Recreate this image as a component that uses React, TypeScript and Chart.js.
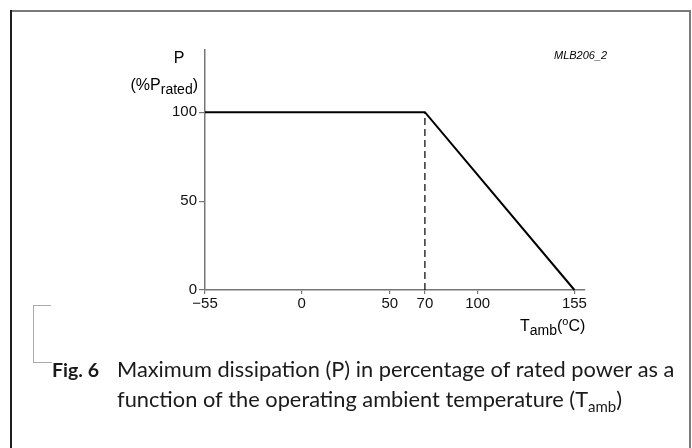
import { useEffect, useRef } from "react";
import { Chart, registerables } from "chart.js";

Chart.register(...registerables);

// ---- data ----
const curveTemps = [-55, 70, 155];
const curvePower = [100, 100, 0];
const dashTemps = [70, 70];
const dashPower = [0, 100];
const xTickValues = [-55, 0, 50, 70, 100, 155];
const yTickValues = [0, 50, 100];
const figLabel = "Fig. 6";
const captionLine1 = "Maximum dissipation (P) in percentage of rated power as a";
const captionLine2 = "function of the operating ambient temperature (T";
const codeLabel = "MLB206_2";

const SANS = "'Liberation Sans', Arial, sans-serif";
const CAP = "Lato, 'Open Sans', sans-serif";

type Seg = { t: string; font: string; dy: number };

function drawSegs(ctx: CanvasRenderingContext2D, segs: Seg[], x: number, y: number, align: "left" | "right") {
  let total = 0;
  for (const s of segs) {
    ctx.font = s.font;
    total += ctx.measureText(s.t).width;
  }
  let cx = align === "left" ? x : x - total;
  ctx.textAlign = "left";
  ctx.textBaseline = "alphabetic";
  for (const s of segs) {
    ctx.font = s.font;
    ctx.fillText(s.t, cx, y + s.dy);
    cx += ctx.measureText(s.t).width;
  }
}

const decorPlugin = {
  id: "decor",
  beforeDraw(chart: any) {
    const ctx: CanvasRenderingContext2D = chart.ctx;
    ctx.save();
    ctx.fillStyle = "#fff";
    ctx.fillRect(0, 0, chart.width, chart.height);
    // frame
    ctx.lineWidth = 2;
    ctx.strokeStyle = "#7a7a7a";
    ctx.beginPath();
    ctx.moveTo(10, 11);
    ctx.lineTo(690, 11);
    ctx.lineTo(690, 448);
    ctx.stroke();
    ctx.strokeStyle = "#1e1e1e";
    ctx.beginPath();
    ctx.moveTo(11, 10);
    ctx.lineTo(11, 448);
    ctx.stroke();
    // dotted bracket
    ctx.strokeStyle = "#555";
    ctx.lineWidth = 1;
    ctx.setLineDash([1, 1]);
    ctx.beginPath();
    ctx.moveTo(50.5, 305.5);
    ctx.lineTo(33.5, 305.5);
    ctx.lineTo(33.5, 362.5);
    ctx.lineTo(52, 362.5);
    ctx.stroke();
    ctx.setLineDash([]);
    ctx.restore();
  },
  afterDraw(chart: any) {
    const ctx: CanvasRenderingContext2D = chart.ctx;
    ctx.save();
    ctx.fillStyle = "#000";
    const fMain = `16px ${SANS}`;
    const fSub = `14px ${SANS}`;
    // y axis title
    ctx.font = fMain;
    ctx.textAlign = "center";
    ctx.fillText("P", 179, 63);
    drawSegs(ctx, [
      { t: "(%P", font: fMain, dy: 0 },
      { t: "rated", font: fSub, dy: 4 },
      { t: ")", font: fMain, dy: 0 },
    ], 198, 90, "right");
    // x axis title
    drawSegs(ctx, [
      { t: "T", font: fMain, dy: 0 },
      { t: "amb", font: fSub, dy: 4 },
      { t: "(", font: fMain, dy: 0 },
      { t: "o", font: `11px ${SANS}`, dy: -6 },
      { t: "C)", font: fMain, dy: 0 },
    ], 520, 331, "left");
    // code label
    ctx.font = `italic 11px ${SANS}`;
    ctx.textAlign = "left";
    ctx.fillText(codeLabel, 554, 59);
    // caption
    ctx.fillStyle = "#1a1a1a";
    ctx.font = `bold 19.5px ${CAP}`;
    ctx.fillText(figLabel, 52, 377);
    ctx.font = `21.8px ${CAP}`;
    ctx.fillText(captionLine1, 117, 377);
    drawSegs(ctx, [
      { t: captionLine2, font: `21.8px ${CAP}`, dy: 0 },
      { t: "amb", font: `15px ${CAP}`, dy: 5 },
      { t: ")", font: `21.8px ${CAP}`, dy: 0 },
    ], 117, 407, "left");
    ctx.restore();
  },
};

export default function App() {
  const ref = useRef<HTMLCanvasElement | null>(null);
  useEffect(() => {
    if (!ref.current) return;
    const chart = new Chart(ref.current, {
      type: "line",
      data: {
        datasets: [
          {
            data: curveTemps.map((t, i) => ({ x: t, y: curvePower[i] })),
            borderColor: "#000",
            borderWidth: 2,
            pointRadius: 0,
            tension: 0,
            clip: false as any,
          },
          {
            data: dashTemps.map((t, i) => ({ x: t, y: dashPower[i] })),
            borderColor: "#000",
            borderWidth: 1.2,
            borderDash: [7, 4],
            pointRadius: 0,
            tension: 0,
          },
        ],
      },
      options: {
        animation: false,
        responsive: false,
        events: [],
        layout: { padding: { left: 145, top: 50, right: 107, bottom: 128 } },
        plugins: { legend: { display: false }, tooltip: { enabled: false } },
        scales: {
          x: {
            type: "linear",
            min: -55,
            max: 161,
            afterBuildTicks: (s: any) => {
              s.ticks = xTickValues.map((v) => ({ value: v }));
            },
            afterFit: (s: any) => {
              s.height = 30;
            },
            grid: { drawOnChartArea: false, tickLength: 4, color: "#777", lineWidth: 1.2 },
            border: { color: "#777", width: 1.5 },
            ticks: {
              color: "#111",
              font: { family: SANS, size: 15 },
              padding: 1,
              maxRotation: 0,
              autoSkip: false,
              callback: (v: any) => (v < 0 ? "\u2212" + -v : String(v)),
            },
          },
          y: {
            type: "linear",
            min: 0,
            max: 135,
            afterBuildTicks: (s: any) => {
              s.ticks = yTickValues.map((v) => ({ value: v }));
            },
            afterFit: (s: any) => {
              s.width = 60;
            },
            grid: { drawOnChartArea: false, tickLength: 6, color: "#777", lineWidth: 1.2 },
            border: { color: "#777", width: 1.5 },
            ticks: {
              color: "#111",
              font: { family: SANS, size: 15 },
              padding: 2,
              autoSkip: false,
            },
          },
        },
      },
      plugins: [decorPlugin],
    });
    return () => chart.destroy();
  }, []);
  return (
    <canvas
      ref={ref}
      width={692}
      height={448}
      style={{ position: "absolute", left: 0, top: 0, width: 692, height: 448 }}
    />
  );
}
